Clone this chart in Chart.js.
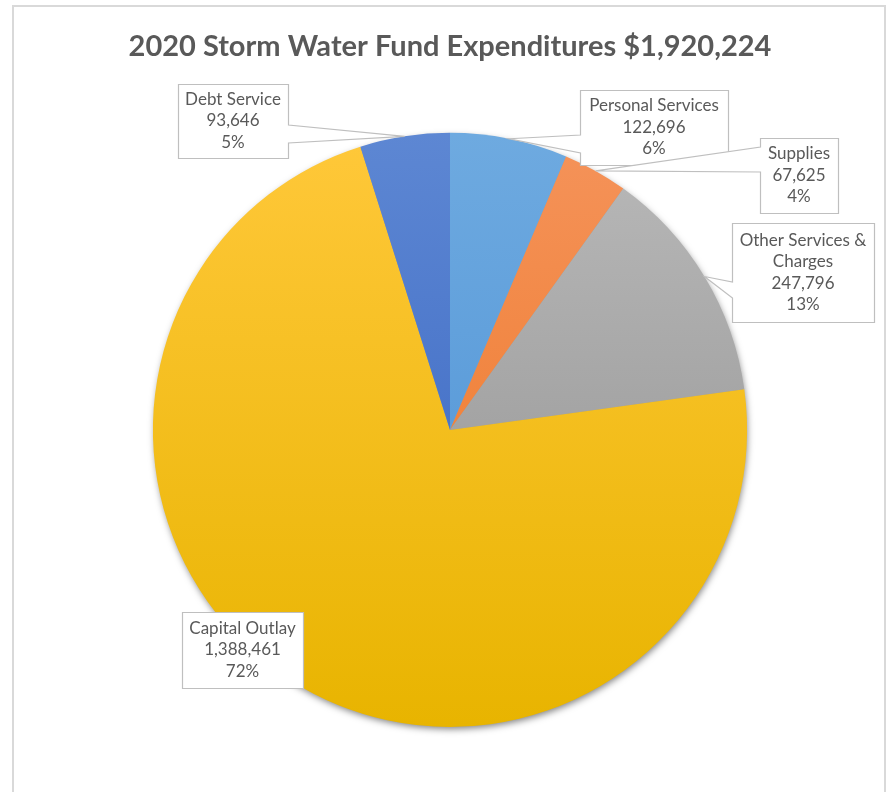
<!DOCTYPE html>
<html>
<head>
<meta charset="utf-8">
<title>2020 Storm Water Fund Expenditures</title>
<script src="https://cdn.jsdelivr.net/npm/chart.js@4.4.0/dist/chart.umd.min.js"></script>
<style>
    html, body { margin: 0; padding: 0; background: #fff; overflow: hidden; }
    #wrap { position: relative; width: 886px; height: 792px; }
    #frame { position: absolute; left: 12px; top: 5px; width: 874px; height: 820px; border: 2px solid #d9d9d9; box-sizing: border-box; }
    #chart { position: absolute; left: 0; top: 0; }
</style>
</head>
<body>
<div id="wrap">
    <div id="frame"></div>
    <canvas id="chart" width="886" height="792"></canvas>
</div>
<script>
// chart data
const categories = ["Personal Services", "Supplies", "Other Services & Charges", "Capital Outlay", "Debt Service"];
const labelLines = [["Personal Services"], ["Supplies"], ["Other Services &", "Charges"], ["Capital Outlay"], ["Debt Service"]];
const amounts = [122696, 67625, 247796, 1388461, 93646];
const percentLabels = ["6%", "4%", "13%", "72%", "5%"];
const chartTitle = "2020 Storm Water Fund Expenditures $1,920,224";

// light top -> dark bottom for each slice
const sliceColors = [
    ["#6eaae0", "#4a8fd4"],
    ["#f5935a", "#ec7420"],
    ["#b9b9b9", "#8e8e8e"],
    ["#ffc83a", "#e8b400"],
    ["#5d87d3", "#3562c0"]
];

// callout boxes (pixel layout), pointer base on one side of the box
const calloutBoxes = [
    { x: 580, y: 90, w: 148, h: 75, side: "left", p1: 135, p2: 153 },
    { x: 760, y: 138, w: 78, h: 75, side: "left", p1: 147, p2: 172 },
    { x: 732, y: 223, w: 142, h: 99, side: "left", p1: 282, p2: 298 },
    { x: 182, y: 612, w: 121, h: 76, side: "none" },
    { x: 178, y: 84, w: 110, h: 74, side: "right", p1: 125, p2: 143 }
];

function sliceFill(context) {
    const chart = context.chart;
    const area = chart.chartArea;
    const pair = sliceColors[context.dataIndex];
    if (!area) return pair[0];
    const g = chart.ctx.createLinearGradient(0, area.top, 0, area.bottom);
    g.addColorStop(0, pair[0]);
    g.addColorStop(1, pair[1]);
    return g;
}

const pieShadow = {
    id: "pieShadow",
    beforeDatasetsDraw(chart) {
        const arc = chart.getDatasetMeta(0).data[0];
        if (!arc) return;
        const ctx = chart.ctx;
        ctx.save();
        ctx.shadowColor = "rgba(0,0,0,0.5)";
        ctx.shadowBlur = 7;
        ctx.shadowOffsetX = 1;
        ctx.shadowOffsetY = 3;
        ctx.beginPath();
        ctx.arc(arc.x, arc.y, arc.outerRadius - 1, 0, Math.PI * 2);
        ctx.fillStyle = "#999";
        ctx.fill();
        ctx.restore();
    }
};

const callouts = {
    id: "callouts",
    afterDatasetsDraw(chart, args, opts) {
        const ctx = chart.ctx;
        const arcs = chart.getDatasetMeta(0).data;
        opts.boxes.forEach((b, i) => {
            const arc = arcs[i];
            const mid = (arc.startAngle + arc.endAngle) / 2;
            const ax = arc.x + Math.cos(mid) * arc.outerRadius;
            const ay = arc.y + Math.sin(mid) * arc.outerRadius;
            const x = b.x + 0.5, y = b.y + 0.5, r = b.x + b.w + 0.5, btm = b.y + b.h + 0.5;

            ctx.save();
            ctx.beginPath();
            ctx.moveTo(x, y);
            ctx.lineTo(r, y);
            if (b.side === "right") {
                ctx.lineTo(r, b.p1);
                ctx.lineTo(ax, ay);
                ctx.lineTo(r, b.p2);
            }
            ctx.lineTo(r, btm);
            ctx.lineTo(x, btm);
            if (b.side === "left") {
                ctx.lineTo(x, b.p2);
                ctx.lineTo(ax, ay);
                ctx.lineTo(x, b.p1);
            }
            ctx.closePath();
            ctx.fillStyle = "#ffffff";
            ctx.fill();
            ctx.strokeStyle = "#bfbfbf";
            ctx.lineWidth = 1.2;
            ctx.stroke();

            const lines = labelLines[i].concat([amounts[i].toLocaleString("en-US"), percentLabels[i]]);
            const lh = opts.lineHeight;
            const cx = b.x + b.w / 2;
            let ty = b.y + b.h / 2 - (lines.length - 1) * lh / 2;
            ctx.font = opts.font;
            ctx.fillStyle = "#595959";
            ctx.textAlign = "center";
            ctx.textBaseline = "middle";
            lines.forEach(line => {
                ctx.fillText(line, cx, ty);
                ty += lh;
            });
            ctx.restore();
        });
    }
};

const chart = new Chart(document.getElementById("chart"), {
    type: "pie",
    data: {
        labels: categories,
        datasets: [{
            data: amounts,
            backgroundColor: sliceFill,
            borderWidth: 0
        }]
    },
    options: {
        responsive: false,
        animation: false,
        layout: { padding: { top: 0, bottom: 65, left: 14, right: 0 } },
        plugins: {
            legend: { display: false },
            tooltip: { enabled: false },
            title: {
                display: true,
                text: chartTitle,
                color: "#595959",
                font: { family: "Lato", size: 29, weight: "bold", lineHeight: 1.2 },
                padding: { top: 29, bottom: 69 }
            },
            callouts: {
                boxes: calloutBoxes,
                font: "17px Lato",
                lineHeight: 21.5
            }
        }
    },
    plugins: [pieShadow, callouts]
});
</script>
</body>
</html>
